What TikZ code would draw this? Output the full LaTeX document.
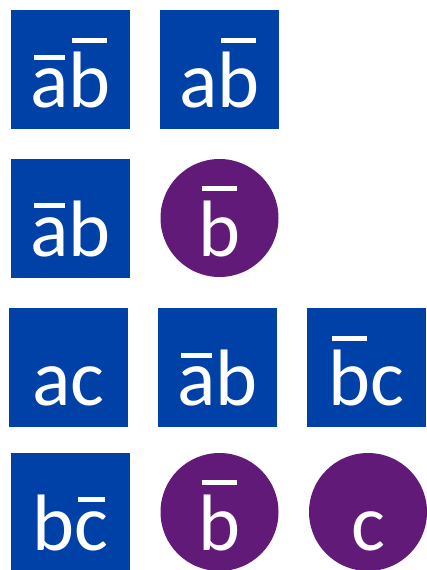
\documentclass[tikz,border=0pt]{standalone}
\usepackage{fontspec}
\setmainfont{Carlito}
\definecolor{boxblue}{HTML}{0041A8}
\definecolor{circpurple}{HTML}{621A78}
\newcommand\ovl[1]{\setbox0\hbox{#1}\rlap{\hspace{3.5pt}\raisebox{\dimexpr\ht0+9pt\relax}{\rule{\dimexpr\wd0-7pt\relax}{5pt}}}\box0}
\tikzset{
  sq/.style={fill=boxblue, draw=none, text=white, minimum width=119pt, minimum height=119pt, inner sep=0pt,
    font=\fontsize{80pt}{90pt}\selectfont, text height=76pt, text depth=0pt},
  rd/.style={circle, fill=circpurple, draw=none, text=white, minimum size=118pt, inner sep=0pt,
    font=\fontsize{80pt}{90pt}\selectfont, text height=76pt, text depth=0pt},
}
\begin{document}
\begin{tikzpicture}[x=1pt,y=-1pt]
\useasboundingbox (0,0) rectangle (427,570);
\node[sq] (r1a) at (70.5,69.5) {\ovl{a}\ovl{b}};
\node[sq] (r1b) at (219.5,69.5) {a\ovl{b}};
\node[sq] (r2a) at (70.5,218) {\ovl{a}b};
\node[rd] (r2b) at (219.5,218) {\ovl{b}};
\node[sq] (r3a) at (68.5,367.5) {ac};
\node[sq] (r3b) at (217.5,367.5) {\ovl{a}b};
\node[sq] (r3c) at (366.5,367.5) {\ovl{b}c};
\node[sq] (r4a) at (70.5,512) {b\ovl{c}};
\node[rd] (r4b) at (219.5,512) {\ovl{b}};
\node[rd] (r4c) at (368,512) {c};
\end{tikzpicture}
\end{document}
